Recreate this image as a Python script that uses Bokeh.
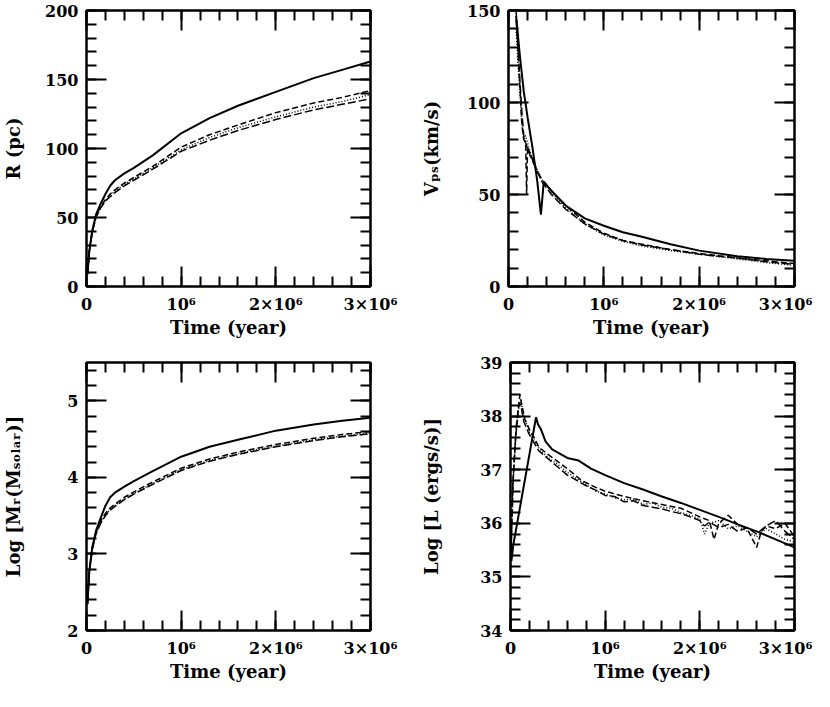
from bokeh.plotting import figure
from bokeh.models import Range1d, SingleIntervalTicker, LinearAxis, CustomJSTickFormatter
from bokeh.layouts import column, row
from bokeh.embed import file_html
from bokeh.resources import INLINE

FONT = "DejaVu Serif"

# ---------------- data ----------------
x_tick_labels = {0: "0", 1000000: "10⁶", 2000000: "2×10⁶", 3000000: "3×10⁶"}

# Panel 1: shell radius R (pc)
t_R = [0.01e6, 0.03e6, 0.06e6, 0.1e6, 0.15e6, 0.2e6, 0.25e6, 0.3e6, 0.4e6, 0.5e6,
       0.7e6, 1.0e6, 1.3e6, 1.6e6, 2.0e6, 2.4e6, 2.7e6, 3.0e6]
R_solid = [9, 26, 40, 52, 60, 67, 73, 77, 82, 86, 95, 111, 122, 131, 141, 151, 157, 163]
R_dash = [9, 26, 40, 51, 58, 63, 67, 70, 75, 79, 87, 101, 110, 117, 126, 133, 137, 142]
R_dot = [9, 26, 39, 50, 57, 62, 66, 69, 74, 78, 86, 99, 108, 115, 123, 130, 134, 139]
R_dash2 = [9, 25, 39, 50, 57, 62, 65, 68, 73, 77, 85, 98, 106, 113, 121, 128, 132, 136]

# Panel 2: shell velocity V_ps (km/s)
t_V_solid = [0.08e6, 0.12e6, 0.16e6, 0.2e6, 0.25e6, 0.3e6, 0.34e6, 0.37e6, 0.45e6, 0.6e6,
             0.8e6, 1.0e6, 1.2e6, 1.4e6, 1.7e6, 2.0e6, 2.4e6, 2.7e6, 3.0e6]
V_solid = [147, 125, 106, 92, 76, 58, 39, 57, 52, 44, 37, 33, 29.5, 27, 23, 19.5, 16.5, 15, 14]
t_V_dash = [0.08e6, 0.1e6, 0.12e6, 0.14e6, 0.16e6, 0.18e6, 0.19e6, 0.2e6, 0.23e6, 0.28e6,
            0.35e6, 0.45e6, 0.6e6, 0.8e6, 1.0e6, 1.2e6, 1.4e6, 1.7e6, 2.0e6, 2.4e6, 2.7e6, 3.0e6]
V_dash = [150, 128, 108, 88, 80, 78, 50, 76, 72, 65, 58, 52, 44, 35, 29, 25, 23, 20, 18, 15.5, 14, 12.5]
t_V_dot = [0.08e6, 0.11e6, 0.14e6, 0.16e6, 0.18e6, 0.22e6, 0.28e6, 0.35e6, 0.45e6, 0.6e6,
           0.8e6, 1.0e6, 1.2e6, 1.4e6, 1.7e6, 2.0e6, 2.4e6, 2.7e6, 3.0e6]
V_dot = [140, 112, 90, 80, 82, 74, 66, 58, 51, 43, 34, 28, 24.5, 22, 19.5, 17.5, 15, 13, 11.5]
V_dash2 = [145, 120, 95, 82, 78, 72, 65, 57, 50, 42, 34, 28.5, 25, 22.5, 20, 17.5, 15.5, 13.5, 12]

# Panel 3: log shell mass
t_M = t_R
M_solid = [2.35, 2.78, 3.08, 3.30, 3.47, 3.63, 3.74, 3.80, 3.88, 3.95, 4.08, 4.27, 4.40, 4.49,
           4.61, 4.69, 4.74, 4.78]
M_dash = [2.35, 2.78, 3.07, 3.28, 3.43, 3.53, 3.60, 3.65, 3.74, 3.81, 3.94, 4.12, 4.24, 4.33,
          4.43, 4.51, 4.56, 4.60]
M_dot = [2.35, 2.77, 3.06, 3.27, 3.41, 3.51, 3.58, 3.63, 3.72, 3.79, 3.92, 4.10, 4.22, 4.31,
         4.41, 4.49, 4.54, 4.58]
M_dash2 = [2.34, 2.76, 3.05, 3.26, 3.40, 3.50, 3.57, 3.62, 3.71, 3.78, 3.91, 4.09, 4.21, 4.30,
           4.40, 4.48, 4.53, 4.57]

# Panel 4: log luminosity
t_L_solid = [0.01e6, 0.03e6, 0.27e6, 0.29e6, 0.32e6, 0.37e6, 0.44e6, 0.6e6, 0.72e6, 0.85e6,
             1.0e6, 1.2e6, 1.4e6, 1.6e6, 1.8e6, 2.0e6, 2.2e6, 2.4e6, 2.6e6, 2.8e6, 3.0e6]
L_solid = [35.3, 35.6, 37.98, 37.85, 37.76, 37.53, 37.38, 37.22, 37.17, 37.02, 36.9, 36.75,
           36.63, 36.5, 36.38, 36.25, 36.12, 35.98, 35.85, 35.7, 35.55]
t_L_dash = [0.005e6, 0.02e6, 0.05e6, 0.08e6, 0.1e6, 0.12e6, 0.15e6, 0.2e6, 0.25e6, 0.3e6,
            0.4e6, 0.5e6, 0.6e6, 0.75e6, 0.9e6, 1.0e6, 1.2e6, 1.4e6, 1.6e6, 1.8e6, 2.0e6,
            2.1e6, 2.15e6, 2.2e6, 2.3e6, 2.4e6, 2.5e6, 2.6e6, 2.65e6, 2.7e6, 2.8e6, 2.9e6, 3.0e6]
L_dash = [35.3, 36.6, 37.5, 38.1, 38.4, 38.2, 37.95, 37.75, 37.6, 37.42, 37.28, 37.15, 37.02,
          36.8, 36.67, 36.6, 36.5, 36.42, 36.35, 36.28, 36.12, 36.05, 35.7, 36.0, 36.15, 35.98,
          35.9, 35.55, 35.85, 35.95, 35.9, 36.0, 35.75]
t_L_dot = [0.005e6, 0.03e6, 0.06e6, 0.09e6, 0.11e6, 0.14e6, 0.2e6, 0.25e6, 0.3e6, 0.4e6,
           0.5e6, 0.6e6, 0.7e6, 0.8e6, 0.9e6, 1.0e6, 1.1e6, 1.2e6, 1.3e6, 1.4e6, 1.5e6, 1.6e6,
           1.7e6, 1.8e6, 1.9e6, 2.0e6, 2.05e6, 2.1e6, 2.2e6, 2.3e6, 2.4e6, 2.5e6, 2.6e6, 2.7e6,
           2.8e6, 2.9e6, 3.0e6]
L_dot = [35.4, 36.8, 37.7, 38.2, 38.3, 38.0, 37.7, 37.55, 37.4, 37.22, 37.1, 36.95, 36.83,
         36.72, 36.6, 36.55, 36.48, 36.44, 36.45, 36.35, 36.38, 36.3, 36.28, 36.2, 36.15, 36.08,
         35.8, 36.0, 36.05, 35.9, 35.95, 35.85, 35.75, 35.9, 35.8, 35.7, 35.65]
L_dash2 = [35.5, 36.9, 37.8, 38.25, 38.2, 37.9, 37.65, 37.5, 37.35, 37.2, 37.05, 36.9, 36.8,
           36.7, 36.62, 36.52, 36.5, 36.4, 36.42, 36.33, 36.3, 36.27, 36.22, 36.18, 36.12,
           36.05, 35.95, 36.02, 35.92, 35.98, 35.85, 35.92, 35.8, 35.95, 36.05, 35.85, 35.7]


def style_axis(ax, labels=True):
    ax.axis_line_width = 2
    ax.major_tick_in = 20
    ax.major_tick_out = 0
    ax.minor_tick_in = 10
    ax.minor_tick_out = 0
    ax.major_tick_line_width = 2
    ax.minor_tick_line_width = 2
    ax.major_tick_line_color = "black"
    ax.minor_tick_line_color = "black"
    ax.major_label_text_font = FONT
    ax.major_label_text_font_style = "bold"
    ax.major_label_text_color = "black"
    ax.axis_label_text_font = FONT
    ax.axis_label_text_font_style = "bold"
    ax.axis_label_text_color = "black"
    ax.major_label_text_font_size = "16px"
    ax.axis_label_text_font_size = "18px"
    if labels:
        ax.major_label_standoff = 8
    else:
        ax.major_label_standoff = 0
        ax.formatter = CustomJSTickFormatter(code="return ''")


def panel(width, height, lb, rb, tb, bb, yr, yint, ylabel, ylab_standoff):
    p = figure(width=width, height=height, output_backend="svg", toolbar_location=None,
               x_range=Range1d(0, 3e6), y_range=Range1d(yr[0], yr[1]),
               min_border_left=lb, min_border_right=rb, min_border_top=tb,
               min_border_bottom=bb)
    p.grid.visible = False
    p.outline_line_color = "black"
    p.outline_line_width = 2
    xt = SingleIntervalTicker(interval=1e6, num_minor_ticks=5)
    yt = SingleIntervalTicker(interval=yint, num_minor_ticks=5)
    p.xaxis.ticker = xt
    p.yaxis.ticker = yt
    for ax in p.xaxis + p.yaxis:
        style_axis(ax)
    p.xaxis.major_label_overrides = x_tick_labels
    p.xaxis.axis_label = "Time (year)"
    p.xaxis.axis_label_standoff = 0
    p.yaxis.axis_label = ylabel
    p.yaxis.axis_label_standoff = ylab_standoff
    top = LinearAxis(ticker=SingleIntervalTicker(interval=1e6, num_minor_ticks=5))
    style_axis(top, False)
    p.add_layout(top, "above")
    right = LinearAxis(ticker=SingleIntervalTicker(interval=yint, num_minor_ticks=5))
    style_axis(right, False)
    p.add_layout(right, "right")
    return p


def draw(p, xs_list, ys_list):
    styles = [(2, None), (1.5, "6 3"), (1.5, "1 2"), (1.5, "8 3")]
    for xs, ys, (lw, dash) in zip(xs_list, ys_list, styles):
        if dash is None:
            p.line(xs, ys, line_color="black", line_width=lw)
        else:
            p.line(xs, ys, line_color="black", line_width=lw, line_dash=dash)


LW, RW = 418, 394
TH, BH = 354, 330

p1 = panel(LW, TH, 78, 48, 10, 68, (0, 200), 50, "R (pc)", 18)
draw(p1, [t_R, t_R, t_R, t_R], [R_solid, R_dash, R_dot, R_dash2])

p2 = panel(RW, TH, 84, 18, 10, 68, (0, 150), 50, "Vₚₛ(km/s)", 22)
draw(p2, [t_V_solid, t_V_dash, t_V_dot, t_V_dot], [V_solid, V_dash, V_dot, V_dash2])

p3 = panel(LW, BH, 78, 48, 8, 44, (2, 5.5), 1, "Log [Mᵣ(Mₛₒₗₐᵣ)]", 40)
draw(p3, [t_M, t_M, t_M, t_M], [M_solid, M_dash, M_dot, M_dash2])

p4 = panel(RW, BH, 84, 18, 8, 44, (34, 39), 1, "Log [L (ergs/s)]", 35)
draw(p4, [t_L_solid, t_L_dash, t_L_dot, t_L_dot], [L_solid, L_dash, L_dot, L_dash2])

layout = column(row(p1, p2), row(p3, p4))
open("out.html", "w").write(file_html(layout, INLINE))
